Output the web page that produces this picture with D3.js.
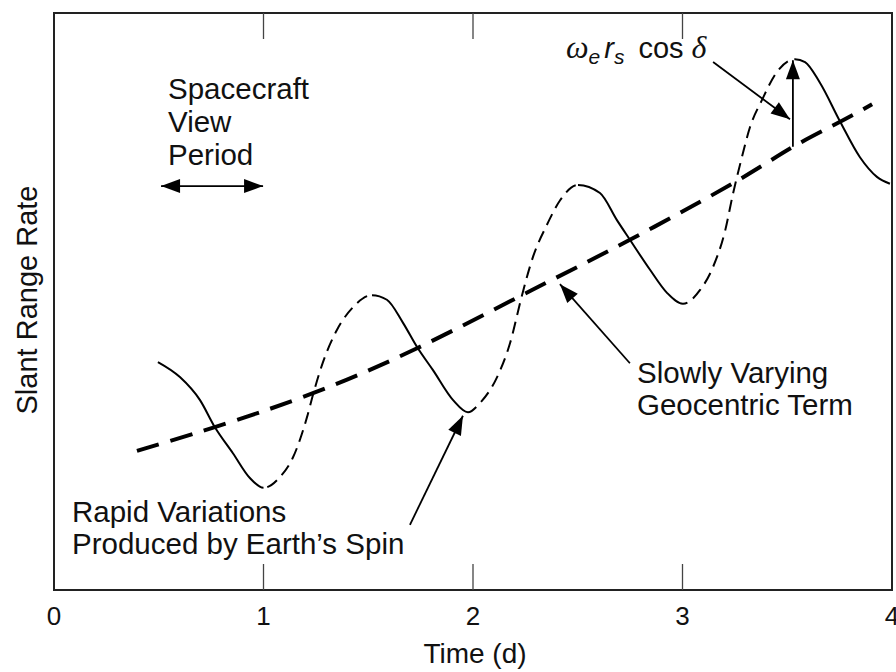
<!DOCTYPE html>
<html>
<head>
<meta charset="utf-8">
<script src="https://cdn.jsdelivr.net/npm/d3@7"></script>
<style>
  body { margin: 0; background: #fff; }
  svg text { font-family: "Liberation Sans", Arial, sans-serif; fill: #111; }
</style>
</head>
<body>
<svg id="chart" width="896" height="672"></svg>
<script>
// tick labels along time axis (days)
const xTicks = [0, 1, 2, 3, 4]

// slowly varying geocentric term (arbitrary y units 0..10)
const geoX = [0.396, 0.764, 1.236, 1.733, 2.234, 2.749, 3.260, 3.527, 3.766, 3.905]
const geoY = [2.41, 2.82, 3.41, 4.19, 5.11, 6.07, 7.09, 7.68, 8.14, 8.42]

// rapid variations from earth's spin
const waveX = [0.496, 0.601, 0.697, 0.768, 0.854, 0.935, 1.0,
  1.079, 1.141, 1.208, 1.236, 1.284, 1.351, 1.427, 1.518,
  1.589, 1.666, 1.733, 1.809, 1.905, 1.976,
  2.033, 2.115, 2.177, 2.234, 2.286, 2.353, 2.415, 2.501,
  2.606, 2.687, 2.749, 2.845, 2.926, 3.002,
  3.084, 3.146, 3.205, 3.240, 3.280, 3.322, 3.379, 3.451, 3.537,
  3.585, 3.656, 3.752, 3.847, 3.928, 3.990]
const waveY = [3.95, 3.69, 3.29, 2.82, 2.37, 1.94, 1.77,
  1.96, 2.30, 3.00, 3.38, 3.95, 4.51, 4.90, 5.11,
  5.03, 4.63, 4.21, 3.81, 3.29, 3.08,
  3.24, 3.69, 4.28, 5.11, 5.77, 6.33, 6.75, 7.02,
  6.88, 6.41, 6.07, 5.55, 5.15, 4.96,
  5.20, 5.60, 6.25, 6.85, 7.45, 8.02, 8.49, 8.98, 9.20,
  9.15, 8.79, 8.12, 7.50, 7.16, 7.04]
// x where the wave switches between seen (solid) and not seen (dashed)
const waveBreaks = [0.496, 1.0, 1.518, 1.976, 2.501, 3.002, 3.537, 3.990]
const waveStyles = ["solid", "dashed", "solid", "dashed", "solid", "dashed", "solid"]

const svg = d3.select("#chart")

const x = d3.scaleLinear().domain([0, 4]).range([54, 892])
const y = d3.scaleLinear().domain([0, 10]).range([590, 13])

// frame
svg.append("rect")
  .attr("x", x(0)).attr("y", y(10))
  .attr("width", x(4) - x(0)).attr("height", y(0) - y(10))
  .attr("fill", "none").attr("stroke", "#222").attr("stroke-width", 2)

// inward ticks on bottom and top
const inner = xTicks.filter(d => d > 0 && d < 4)
svg.append("g").selectAll("line").data(inner).enter().append("line")
  .attr("x1", d => x(d)).attr("x2", d => x(d))
  .attr("y1", y(0)).attr("y2", y(0) - 26)
  .attr("stroke", "#444").attr("stroke-width", 1.3)
svg.append("g").selectAll("line").data(inner).enter().append("line")
  .attr("x1", d => x(d)).attr("x2", d => x(d))
  .attr("y1", y(10)).attr("y2", y(10) + 26)
  .attr("stroke", "#444").attr("stroke-width", 1.3)

svg.append("g").selectAll("text").data(xTicks).enter().append("text")
  .attr("x", d => x(d)).attr("y", 625)
  .attr("text-anchor", "middle").attr("font-size", 26)
  .text(d => d)

svg.append("text").attr("x", 475).attr("y", 663)
  .attr("text-anchor", "middle").attr("font-size", 28).text("Time (d)")

svg.append("text").attr("transform", "translate(37,300) rotate(-90)")
  .attr("text-anchor", "middle").attr("font-size", 29).text("Slant Range Rate")

// curves
const line = d3.line().x(d => x(d[0])).y(d => y(d[1])).curve(d3.curveMonotoneX)

svg.append("path")
  .datum(geoX.map((d, i) => [d, geoY[i]]))
  .attr("d", line.curve(d3.curveNatural))
  .attr("fill", "none").attr("stroke", "#000").attr("stroke-width", 4)
  .attr("stroke-dasharray", "23,12")
line.curve(d3.curveMonotoneX)

// one smooth wave, clipped in x into solid and dashed stretches
const wave = waveX.map((d, i) => [d, waveY[i]])
const defs = svg.append("defs")
waveStyles.forEach(function(s, k) {
  let x0 = x(waveBreaks[k]) - (k == 0 ? 3 : 0)
  let x1 = x(waveBreaks[k + 1]) + (k == waveStyles.length - 1 ? 3 : 0)
  defs.append("clipPath").attr("id", "seg" + k)
    .append("rect").attr("x", x0).attr("y", 0).attr("width", x1 - x0).attr("height", 672)
  svg.append("path").datum(wave).attr("d", line)
    .attr("clip-path", `url(#seg${k})`)
    .attr("fill", "none").attr("stroke", "#000").attr("stroke-width", 2)
    .attr("stroke-dasharray", s == "dashed" ? "12,7" : null)
})

// arrows (tip at the end), filled heads
function arrow(x1, y1, x2, y2, both) {
  svg.append("line")
    .attr("x1", x1).attr("y1", y1).attr("x2", x2).attr("y2", y2)
    .attr("stroke", "#000").attr("stroke-width", 1.8)
  head(x1, y1, x2, y2)
  if (both) head(x2, y2, x1, y1)
}
function head(x1, y1, x2, y2) {
  let a = Math.atan2(y2 - y1, x2 - x1), L = 19, hw = 7
  let bx = x2 - L * Math.cos(a), by = y2 - L * Math.sin(a)
  let px = -Math.sin(a) * hw, py = Math.cos(a) * hw
  svg.append("path")
    .attr("d", `M${x2},${y2}L${bx + px},${by + py}L${bx - px},${by - py}Z`)
    .attr("fill", "#000")
}

// spacecraft view period
arrow(x(0.511), y(7.0), x(0.998), y(7.0), true)
// amplitude label arrow and vertical amplitude arrow
arrow(x(3.146), y(9.15), x(3.513), y(8.16))
arrow(x(3.527), y(7.68), x(3.527), y(9.18))
// geocentric
arrow(x(2.749), y(3.93), x(2.415), y(5.30))
// rapid variations
arrow(x(1.699), y(1.13), x(1.952), y(3.02))

function label(lines, px, py0, gap) {
  let t = svg.append("text").attr("font-size", 29.5)
  lines.forEach(function(s, i) {
    t.append("tspan").attr("x", px).attr("y", py0 + i * gap).text(s)
  })
}
label(["Spacecraft", "View", "Period"], 168, 99, 33)
label(["Slowly Varying", "Geocentric Term"], 637, 383, 32)
label(["Rapid Variations", "Produced by Earth\u2019s Spin"], 72, 522, 32)

// omega_e r_s cos delta
let om = svg.append("text").attr("x", 566).attr("y", 58).attr("font-size", 29)
om.append("tspan").attr("font-family", "Liberation Serif, serif").attr("font-style", "italic").attr("font-size", 32).text("\u03c9")
om.append("tspan").attr("font-style", "italic").attr("font-size", 21).attr("dy", 6).text("e")
om.append("tspan").attr("font-style", "italic").attr("dy", -6).attr("dx", 4).text("r")
om.append("tspan").attr("font-style", "italic").attr("font-size", 21).attr("dy", 6).text("s")
om.append("tspan").attr("dy", -6).attr("dx", 14).text("cos")
om.append("tspan").attr("font-family", "Liberation Serif, serif").attr("font-style", "italic").attr("font-size", 32).attr("dx", 8).text("\u03b4")
</script>
</body>
</html>
